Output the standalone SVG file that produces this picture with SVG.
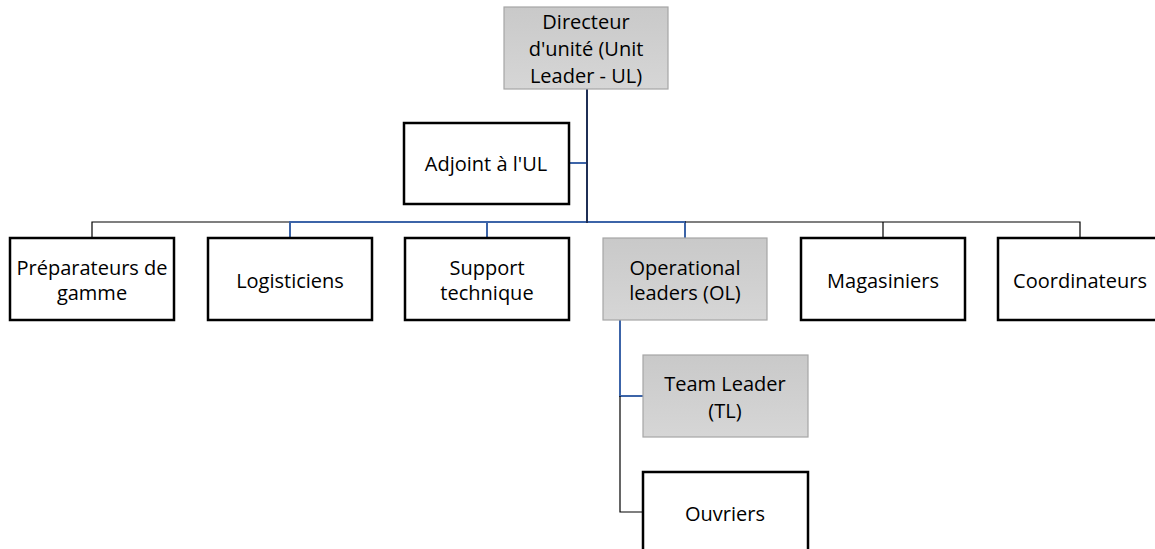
<svg xmlns="http://www.w3.org/2000/svg" width="1155" height="549" viewBox="0 0 1155 549">
<defs>
<linearGradient id="g" x1="0" y1="0" x2="0" y2="1">
<stop offset="0" stop-color="#c9c9c9"/>
<stop offset="1" stop-color="#d6d6d6"/>
</linearGradient>
</defs>
<style>
.box{fill:#fff;stroke:#000;stroke-width:2.5}
.gbox{fill:url(#g);stroke:#a6a6a6;stroke-width:1.2}
text{font-family:"Open Sans","Noto Sans",sans-serif;font-size:20px;fill:#000;text-anchor:middle}
.blk{fill:none;stroke:#000;stroke-width:1.2}
.blu{fill:none;stroke:#3c64a8;stroke-width:2}
.dk{fill:none;stroke:#1f2f55;stroke-width:2}
</style>
<rect width="1155" height="549" fill="#fff"/>
<g id="connectors">
<path class="blk" d="M92 238V222H290"/>
<path class="blu" d="M290 238V222H587"/>
<path class="blu" d="M487 222V238"/>
<path class="blu" d="M569 163H587"/>
<path class="blu" d="M587 222H685V238"/>
<path class="blk" d="M685 222H1080V238"/>
<path class="blk" d="M883 222V238"/>
<path class="dk" d="M587 89V223"/>
<path class="blu" d="M620 320V396H643"/>
<path class="blk" d="M620 396V512H643"/>
</g>
<g id="n-directeur">
<rect class="gbox" x="504" y="7" width="164" height="82"/>
<text x="586" y="29">Directeur</text>
<text x="586" y="56">d'unité (Unit</text>
<text x="586" y="83">Leader - UL)</text>
</g>
<g id="n-adjoint">
<rect class="box" x="404" y="123" width="165" height="81"/>
<text x="486" y="171">Adjoint à l'UL</text>
</g>
<g id="n-preparateurs">
<rect class="box" x="10" y="238" width="164" height="82"/>
<text x="92" y="275">Préparateurs de</text>
<text x="92" y="300">gamme</text>
</g>
<g id="n-logisticiens">
<rect class="box" x="208" y="238" width="164" height="82"/>
<text x="290" y="288">Logisticiens</text>
</g>
<g id="n-support">
<rect class="box" x="405" y="238" width="164" height="82"/>
<text x="487" y="275">Support</text>
<text x="487" y="300">technique</text>
</g>
<g id="n-operational">
<rect class="gbox" x="603" y="238" width="164" height="82"/>
<text x="685" y="275">Operational</text>
<text x="685" y="300">leaders (OL)</text>
</g>
<g id="n-magasiniers">
<rect class="box" x="801" y="238" width="164" height="82"/>
<text x="883" y="288">Magasiniers</text>
</g>
<g id="n-coordinateurs">
<rect class="box" x="998" y="238" width="164" height="82"/>
<text x="1080" y="288">Coordinateurs</text>
</g>
<g id="n-teamleader">
<rect class="gbox" x="643" y="355" width="165" height="82"/>
<text x="725" y="391">Team Leader</text>
<text x="725" y="418">(TL)</text>
</g>
<g id="n-ouvriers">
<rect class="box" x="643" y="472" width="165" height="82"/>
<text x="725" y="521">Ouvriers</text>
</g>
</svg>
